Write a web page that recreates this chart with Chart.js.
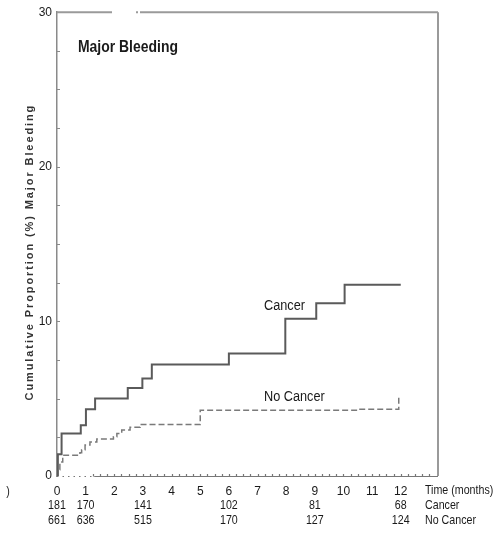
<!DOCTYPE html>
<html>
<head>
<meta charset="utf-8">
<script src="https://cdn.jsdelivr.net/npm/chart.js@4/dist/chart.umd.min.js"></script>
<style>
  html, body { margin: 0; padding: 0; background: #fff; }
  canvas { display: block; }
</style>
</head>
<body>
<canvas id="c" width="501" height="534"></canvas>
<script>
// ---- data ----
const monthTicks = [0, 1, 2, 3, 4, 5, 6, 7, 8, 9, 10, 11, 12];
const yTickLabels = [0, 10, 20, 30];

const cancerTime = [0, 0.03, 0.16, 0.83, 1.01, 1.33, 2.47, 2.98, 3.31, 6.0, 7.97, 9.05, 10.04, 12.0];
const cancerPct  = [0, 1.4, 2.75, 3.29, 4.32, 5.01, 5.70, 6.30, 7.21, 7.92, 10.17, 11.18, 12.37, 12.37];

const noCancerTime = [0, 0.02, 0.1, 0.2, 0.8, 0.86, 0.98, 1.15, 1.39, 1.97, 2.09, 2.26, 2.55, 2.9, 5.0, 10.5, 11.93];
const noCancerPct  = [0, 0.4, 0.9, 1.35, 1.5, 1.7, 2.0, 2.2, 2.4, 2.54, 2.75, 2.97, 3.15, 3.33, 4.26, 4.32, 5.1];

const riskMonths   = [0, 1, 3, 6, 9, 12];
const riskCancer   = [181, 170, 141, 102, 81, 68];
const riskNoCancer = [661, 636, 515, 170, 127, 124];

const SANS = "'Liberation Sans', Arial, sans-serif";
const SQUEEZE = 0.82;

function narrowText(ctx, text, x, y, font, align) {
  ctx.save();
  ctx.font = font;
  ctx.textAlign = align || 'left';
  ctx.textBaseline = 'middle';
  ctx.translate(x, y);
  ctx.scale(SQUEEZE, 1);
  ctx.fillText(text, 0, 0);
  ctx.restore();
}

const decor = {
  id: 'decor',
  afterDraw(chart) {
    const { ctx, chartArea: a, scales: { x, y } } = chart;
    ctx.save();
    // top and right frame
    ctx.strokeStyle = '#9a9a9a';
    ctx.lineWidth = 2;
    ctx.beginPath();
    ctx.moveTo(a.left, a.top); ctx.lineTo(112, a.top);
    ctx.moveTo(136, a.top); ctx.lineTo(138, a.top);
    ctx.moveTo(140, a.top); ctx.lineTo(a.right, a.top);
    ctx.moveTo(a.right, a.top); ctx.lineTo(a.right, a.bottom);
    ctx.stroke();
    // inward y minor ticks
    ctx.strokeStyle = '#8a8a8a';
    ctx.lineWidth = 1;
    ctx.beginPath();
    for (let v = 2.5; v < 30; v += 2.5) {
      const py = Math.round(y.getPixelForValue(v)) + 0.5;
      ctx.moveTo(a.left, py); ctx.lineTo(a.left + 3, py);
    }
    ctx.stroke();
    // bottom axis: dotted start then solid with small ticks
    const by = Math.round(a.bottom) + 0.5;
    ctx.strokeStyle = '#777';
    ctx.lineWidth = 1.2;
    ctx.setLineDash([1.5, 4]);
    ctx.beginPath();
    ctx.moveTo(a.left, by); ctx.lineTo(x.getPixelForValue(1.3), by);
    ctx.stroke();
    ctx.setLineDash([]);
    ctx.beginPath();
    ctx.moveTo(x.getPixelForValue(1.3), by); ctx.lineTo(a.right, by);
    for (let v = 1.25; v <= 13.1; v += 0.25) {
      const px = Math.round(x.getPixelForValue(v)) + 0.5;
      ctx.moveTo(px, by); ctx.lineTo(px, by - 2.5);
    }
    ctx.stroke();

    ctx.fillStyle = '#1a1a1a';
    // panel title
    narrowText(ctx, 'Major Bleeding', 78, 47, "bold 17px " + SANS);
    // curve labels
    narrowText(ctx, 'Cancer', 264, 306, "15.5px " + SANS);
    narrowText(ctx, 'No Cancer', 264, 397, "15.5px " + SANS);
    // x axis caption & risk table
    const tf = "13px " + SANS;
    narrowText(ctx, 'Time (months)', 425, 490, tf);
    narrowText(ctx, 'Cancer', 425, 505, tf);
    narrowText(ctx, 'No Cancer', 425, 520, tf);
    riskMonths.forEach((m, i) => {
      const px = x.getPixelForValue(m);
      narrowText(ctx, String(riskCancer[i]), px, 505, tf, 'center');
      narrowText(ctx, String(riskNoCancer[i]), px, 520, tf, 'center');
    });
    narrowText(ctx, ')', 8, 491, tf, 'center');
    // y axis title (letter spaced)
    ctx.translate(30, (a.top + a.bottom) / 2 + 8);
    ctx.rotate(-Math.PI / 2);
    ctx.font = "bold 11px " + SANS;
    ctx.textAlign = 'center';
    ctx.textBaseline = 'middle';
    if ('letterSpacing' in ctx) ctx.letterSpacing = '1.9px';
    ctx.fillStyle = '#333';
    ctx.fillText('Cumulative Proportion (%) Major Bleeding', 0, 0);
    ctx.restore();
  }
};

new Chart(document.getElementById('c').getContext('2d'), {
  type: 'line',
  data: {
    datasets: [
      {
        label: 'Cancer',
        data: cancerTime.map((t, i) => ({ x: t, y: cancerPct[i] })),
        stepped: true,
        borderColor: '#5a5a5a',
        borderWidth: 2,
        pointRadius: 0,
        fill: false
      },
      {
        label: 'No Cancer',
        data: noCancerTime.map((t, i) => ({ x: t, y: noCancerPct[i] })),
        stepped: true,
        borderColor: '#7a7a7a',
        borderWidth: 1.5,
        borderDash: [6, 3],
        pointRadius: 0,
        fill: false
      }
    ]
  },
  options: {
    responsive: false,
    animation: false,
    devicePixelRatio: 1,
    layout: { padding: { left: 18, right: 63, top: 11, bottom: 0 } },
    plugins: { legend: { display: false }, tooltip: { enabled: false } },
    scales: {
      x: {
        type: 'linear',
        min: 0,
        max: 13.3,
        afterBuildTicks: (s) => { s.ticks = monthTicks.map(v => ({ value: v })); },
        afterFit: (s) => { s.height = 58; },
        ticks: {
          autoSkip: false,
          maxRotation: 0,
          padding: 8,
          color: '#1a1a1a',
          font: { family: SANS, size: 12 }
        },
        grid: { display: false, drawTicks: false },
        border: { display: false }
      },
      y: {
        min: 0,
        max: 30,
        afterBuildTicks: (s) => { s.ticks = yTickLabels.map(v => ({ value: v })); },
        afterFit: (s) => { s.width = 39; },
        ticks: {
          padding: 5,
          color: '#1a1a1a',
          font: { family: SANS, size: 12 }
        },
        grid: { display: false, drawTicks: false },
        border: { display: true, color: '#8a8a8a', width: 1.5 }
      }
    }
  },
  plugins: [decor]
});
</script>
</body>
</html>
